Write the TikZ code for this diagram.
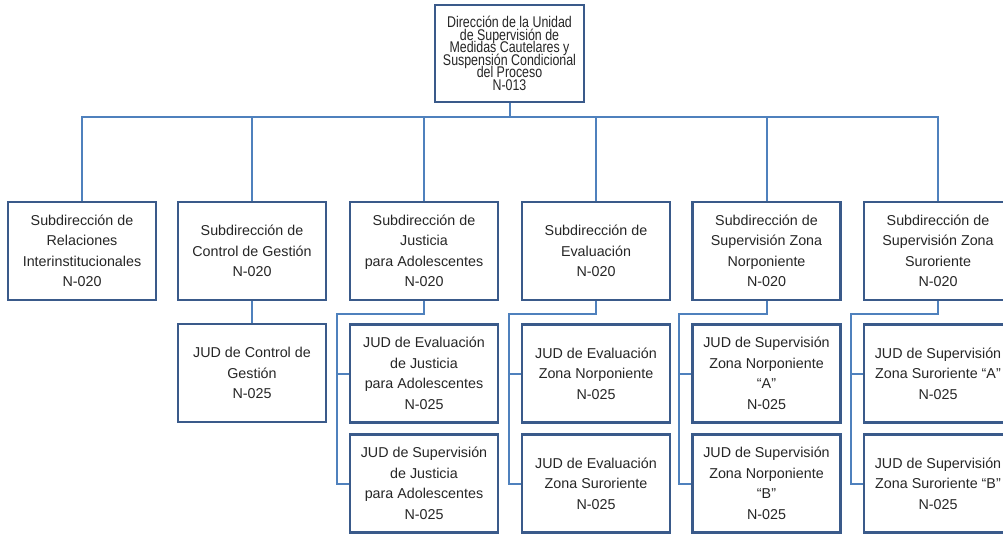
\documentclass[tikz,border=0pt]{standalone}
\usepackage{fontspec}
\setmainfont{Liberation Sans}
\newfontfamily\narrowfont[FakeStretch=0.8]{Liberation Sans}
\newcommand\mytopfont{\narrowfont\fontsize{15.5}{12.5}\selectfont\lineskiplimit=-50pt\relax}
\definecolor{boxline}{HTML}{3A5A8A}
\definecolor{connline}{HTML}{4F81BD}
\definecolor{txt}{HTML}{262626}
\begin{document}
\begin{tikzpicture}[x=1pt,y=-1pt,
  unit/.style={draw=boxline, line width=2.2pt, fill=white, inner sep=0pt,
    minimum width=148pt, minimum height=98pt, align=center, text=txt,
    font=\fontsize{14.3}{20.5}\selectfont},
  topunit/.style={unit, minimum width=149pt, minimum height=97pt,
    font=\mytopfont},
  conn/.style={draw=connline, line width=2pt}]
\clip (0,0) rectangle (1003,534);
\fill[white] (0,0) rectangle (1003,534);

% top
\node[topunit] (top) at (509.5,53.5) {Dirección de la Unidad\\de Supervisión de\\Medidas Cautelares y\\Suspensión Condicional\\del Proceso\\N-013};

% level 2
\node[unit] (b1) at (82,251) {Subdirección de\\Relaciones\\Interinstitucionales\\N-020};
\node[unit] (b2) at (252,251) {Subdirección de\\Control de Gestión\\N-020};
\node[unit] (b3) at (424,251) {Subdirección de\\Justicia\\para Adolescentes\\N-020};
\node[unit] (b4) at (596,251) {Subdirección de\\Evaluación\\N-020};
\node[unit] (b5) at (766.5,251) {Subdirección de\\Supervisión Zona\\Norponiente\\N-020};
\node[unit] (b6) at (938,251) {Subdirección de\\Supervisión Zona\\Suroriente\\N-020};

% level 3
\node[unit] (j2) at (252,373) {JUD de Control de\\Gestión\\N-025};
\node[unit] (j31) at (424,373.5) {JUD de Evaluación\\de Justicia\\para Adolescentes\\N-025};
\node[unit] (j32) at (424,483.5) {JUD de Supervisión\\de Justicia\\para Adolescentes\\N-025};
\node[unit] (j41) at (596,373.5) {JUD de Evaluación\\Zona Norponiente\\N-025};
\node[unit] (j42) at (596,483.5) {JUD de Evaluación\\Zona Suroriente\\N-025};
\node[unit] (j51) at (766.5,373.5) {JUD de Supervisión\\Zona Norponiente\\“A”\\N-025};
\node[unit] (j52) at (766.5,483.5) {JUD de Supervisión\\Zona Norponiente\\“B”\\N-025};
\node[unit] (j61) at (938,373.5) {JUD de Supervisión\\Zona Suroriente “A”\\N-025};
\node[unit] (j62) at (938,483.5) {JUD de Supervisión\\Zona Suroriente “B”\\N-025};

% connectors top -> level 2
\foreach \b in {b1,b2,b3,b4,b5,b6}
  \draw[conn] (top.south) -- ++(0,14) -| (\b.north);

% b2 -> j2
\draw[conn] (b2.south) -- (j2.north);

% brackets
\foreach \s/\u/\l in {b3/j31/j32, b4/j41/j42, b5/j51/j52, b6/j61/j62} {
  \draw[conn] (\s.south) -- ++(0,13) -| ([xshift=-12pt]\l.west) -- (\l.west);
  \draw[conn] ([xshift=-12pt]\u.west) -- (\u.west);
}
\end{tikzpicture}
\end{document}
